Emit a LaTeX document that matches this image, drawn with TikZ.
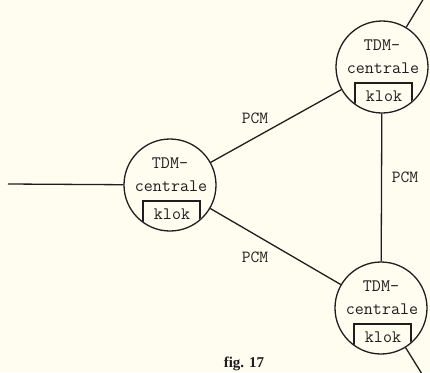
\documentclass[tikz,border=0pt]{standalone}
\usepackage{fontspec}
\newfontfamily\figfont{Liberation Serif}
\usetikzlibrary{calc}

\definecolor{papier}{RGB}{255,252,240}
\definecolor{inkt}{RGB}{30,30,30}

\begin{document}
\begin{tikzpicture}[x=1pt, y=-1pt, lijn/.style={draw=inkt, line width=1.3pt},
    centrale/.style={circle, draw=inkt, line width=1.3pt, minimum size=92pt, inner sep=0pt},
    tekst/.style={inner sep=0pt, text=inkt, font=\ttfamily\fontsize{17.5}{19}\selectfont},
    pcm/.style={inner sep=0pt, text=inkt, font=\ttfamily\fontsize{17}{19}\selectfont}]

    % Paper
    \fill[papier] (0,0) rectangle (430,372);
    \useasboundingbox (0,0) rectangle (430,372);

    % Exchanges with clock box
    \foreach \nm/\x/\y in {links/170/185, boven/382/67, onder/381/308} {
        \node[centrale] (\nm) at (\x,\y) {};
        \node[tekst] (\nm-a) at ($(\nm)+(0,-22)$) {TDM-};
        \node[tekst] (\nm-b) at ($(\nm)+(1,1)$) {centrale};
        \begin{scope}
            \clip (\nm.center) circle (45.3pt);
            \draw[lijn] ($(\nm)+(-27,16)$) rectangle ($(\nm)+(30,60)$);
        \end{scope}
        \node[tekst] (\nm-k) at ($(\nm)+(2,29)$) {klok};
    }

    % Free line ends
    \coordinate (inL) at (8,184);
    \coordinate (uitB) at (424,-2);
    \coordinate (uitO) at (422,374);

    % PCM links
    \draw[lijn] (links) -- (boven);
    \draw[lijn] (links) -- (onder);
    \draw[lijn] (boven) -- (onder);
    \draw[lijn] (inL) -- (links);
    \draw[lijn] (boven) -- (uitB);
    \draw[lijn] (onder) -- (uitO);

    \node[pcm] (p1) at (255,118) {PCM};
    \node[pcm] (p2) at (255,257) {PCM};
    \node[pcm] (p3) at (405,177) {PCM};

    \node[inner sep=0pt, text=inkt, font=\figfont\bfseries\fontsize{15}{17}\selectfont] (fig) at (244,364) {fig. 17};

\end{tikzpicture}
\end{document}
